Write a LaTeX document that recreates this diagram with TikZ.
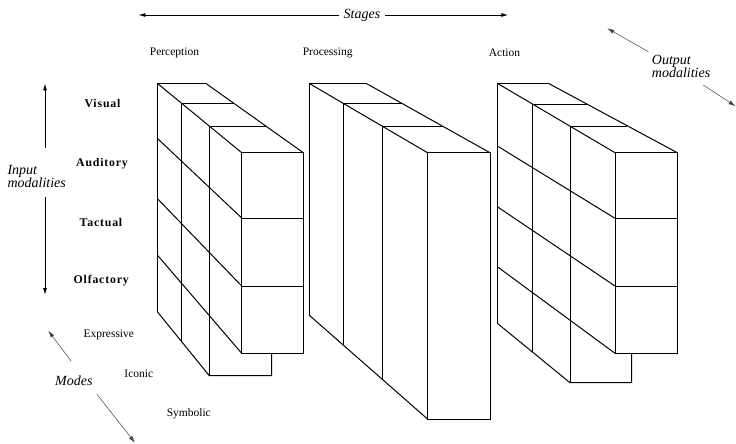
\documentclass[tikz,border=0pt]{standalone}
\usepackage{fontspec}
\setmainfont{Liberation Serif}
\newfontfamily\spacedbold[LetterSpace=7]{Liberation Serif}
\usetikzlibrary{arrows.meta}

\tikzset{
  edge/.style={line width=1pt, line join=miter, line cap=butt},
  axis/.style={line width=0.9pt, -{Latex[length=7pt,width=4pt]}},
  thinaxis/.style={line width=0.5pt, draw=black!75, -{Latex[length=7pt,width=4pt]}},
  stagelabel/.style={font=\fontsize{11.5}{13}\selectfont, inner sep=1pt},
  modelabel/.style={font=\fontsize{11.5}{13}\selectfont, inner sep=1pt},
  senselabel/.style={font=\spacedbold\bfseries\fontsize{11.8}{13}\selectfont, inner sep=1pt},
  axislabel/.style={font=\itshape\fontsize{14}{13.5}\selectfont, inner sep=1pt, align=left},
}

\begin{document}
\begin{tikzpicture}[x=1pt, y=-1pt]
\useasboundingbox (0,0) rectangle (736,444);

% ---------- Perception block ----------
\begin{scope}[edge]
  \draw (157.3,83.3) -- (205.7,83.3);
  \draw (157.3,83.3) -- (241.7,152.7);
  \draw (205.7,83.3) -- (303.3,152.7);
  \draw (181.7,103.3) -- (233.3,103.3);
  \draw (209.3,126.7) -- (266.0,126.7);
  \draw (241.7,152.7) rectangle (303.3,353.3);
  \draw (241.7,218.0) -- (303.3,218.0);
  \draw (241.7,286.0) -- (303.3,286.0);
  \draw (157.3,83.3) -- (157.3,311.7);
  \draw (181.7,103.3) -- (181.7,341.7);
  \draw (209.3,126.7) -- (209.3,375.7);
  \draw (157.3,138.3) -- (241.7,218.0);
  \draw (157.3,198.5) -- (241.7,286.0);
  \draw (157.3,255.0) -- (241.7,353.3);
  \draw (157.3,311.7) -- (209.3,375.7) -- (271.7,375.7) -- (271.7,353.3);
\end{scope}

% ---------- Processing block ----------
\begin{scope}[edge]
  \draw (309.0,83.3) -- (366.0,83.3);
  \draw (309.0,83.3) -- (427.5,152.7);
  \draw (366.0,83.3) -- (490.0,152.7);
  \draw (343.3,103.5) -- (401.7,103.5);
  \draw (382.3,126.7) -- (442.7,126.7);
  \draw (427.5,152.7) rectangle (490.0,419.0);
  \draw (309.0,83.3) -- (309.0,315.0);
  \draw (343.3,103.5) -- (343.3,345.0);
  \draw (382.3,126.7) -- (382.3,379.5);
  \draw (309.0,315.0) -- (427.5,419.0);
\end{scope}

% ---------- Action block ----------
\begin{scope}[edge]
  \draw (497.3,83.3) -- (548.3,83.3);
  \draw (497.3,83.3) -- (615.0,152.7);
  \draw (548.3,83.3) -- (677.3,152.7);
  \draw (532.3,104.0) -- (586.7,104.0);
  \draw (570.0,126.7) -- (626.7,126.7);
  \draw (615.0,152.7) rectangle (677.3,353.3);
  \draw (615.0,218.3) -- (677.3,218.3);
  \draw (615.0,286.0) -- (677.3,286.0);
  \draw (497.3,83.3) -- (497.3,323.3);
  \draw (532.3,104.0) -- (532.3,351.7);
  \draw (570.0,126.7) -- (570.0,382.7);
  \draw (497.3,146.0) -- (615.0,218.3);
  \draw (497.3,206.7) -- (615.0,286.0);
  \draw (497.3,266.7) -- (615.0,353.3);
  \draw (497.3,323.3) -- (570.0,382.7) -- (631.7,382.7) -- (631.7,353.3);
\end{scope}

% ---------- Stages axis ----------
\node[axislabel, inner sep=5pt] (stages) at (362,15) {Stages};
\coordinate (stagesL) at (138.3,15);
\coordinate (stagesR) at (508.3,15);
\draw[axis] (stages.west) -- (stagesL);
\draw[axis] (stages.east) -- (stagesR);

\node[stagelabel] (perception) at (174.5,53) {Perception};
\node[stagelabel] (processing) at (327.7,53) {Processing};
\node[stagelabel] (action) at (504.5,53) {Action};

% ---------- Input modalities axis ----------
\node[axislabel, anchor=west] (input) at (6.3,176.5) {Input\\modalities};
\coordinate (inUpA) at (45,148.3);
\coordinate (inUpB) at (45,83.3);
\coordinate (inDnA) at (45,196.7);
\coordinate (inDnB) at (45,295);
\draw[axis] (inUpA) -- (inUpB);
\draw[axis] (inDnA) -- (inDnB);

\node[senselabel] (visual) at (102.5,103.3) {Visual};
\node[senselabel] (auditory) at (102,164) {Auditory};
\node[senselabel] (tactual) at (101,222.7) {Tactual};
\node[senselabel] (olfactory) at (101.2,281) {Olfactory};

% ---------- Output modalities axis ----------
\node[axislabel, anchor=west] (output) at (650.7,66.5) {Output\\modalities};
\coordinate (outUpA) at (648.3,51.7);
\coordinate (outUpB) at (607.3,28.3);
\coordinate (outDnA) at (703.3,85);
\coordinate (outDnB) at (735.5,106.2);
\draw[thinaxis] (outUpA) -- (outUpB);
\draw[thinaxis] (outDnA) -- (outDnB);

% ---------- Modes axis ----------
\node[axislabel] (modes) at (73.8,381) {Modes};
\coordinate (modeUpA) at (71,361);
\coordinate (modeUpB) at (48.3,330.7);
\coordinate (modeDnA) at (96.7,394);
\coordinate (modeDnB) at (135,442.7);
\draw[thinaxis] (modeUpA) -- (modeUpB);
\draw[thinaxis] (modeDnA) -- (modeDnB);

\node[modelabel] (expressive) at (108.8,335) {Expressive};
\node[modelabel] (iconic) at (138.8,374) {Iconic};
\node[modelabel] (symbolic) at (188.8,414) {Symbolic};
\end{tikzpicture}
\end{document}
